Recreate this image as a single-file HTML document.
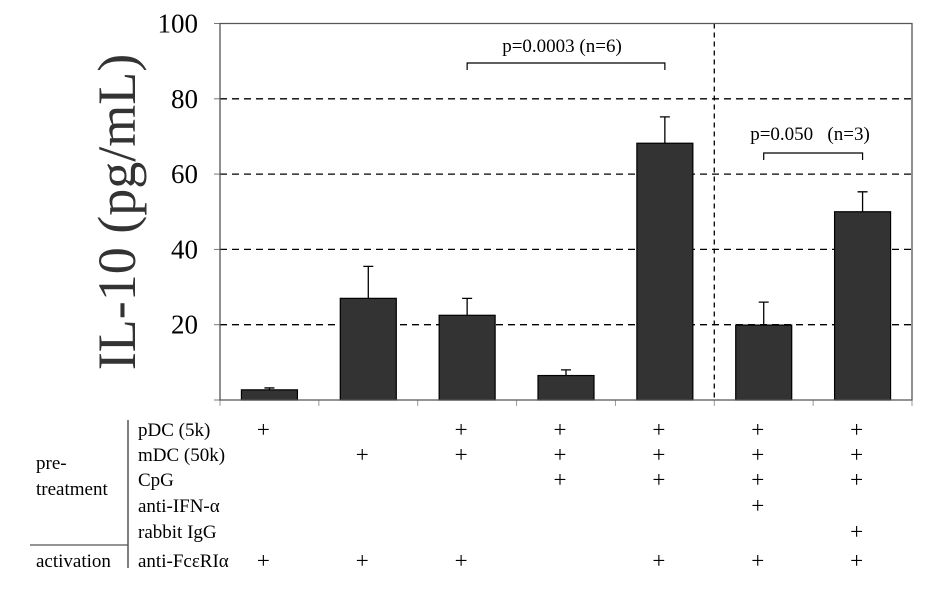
<!DOCTYPE html>
<html><head><meta charset="utf-8"><style>
body{margin:0;background:#fff;}
svg{display:block;font-family:"Liberation Serif",serif;}
text{white-space:pre;}
</style></head><body>
<svg id="chart" width="926" height="600">
<g id="grid"></g><g id="bars"></g><g id="axes"></g><g id="table"></g>
</svg>
<script>
const categories=["pDC","mDC","pDC+mDC","pDC+mDC+CpG","pDC+mDC+CpG+act","anti-IFN","rabbit IgG"];
const values=[2.7,27,22.5,6.5,68.2,19.9,50];
const errors=[0.5,8.5,4.5,1.5,7,6.1,5.3];
const yTicks=[0,20,40,60,80,100];
const rowLabels=["pDC (5k)","mDC (50k)","CpG","anti-IFN-\u03b1","rabbit IgG","anti-Fc\u03b5RI\u03b1"];
const plusRows=[[1,0,1,1,1,1,1],[0,1,1,1,1,1,1],[0,0,0,1,1,1,1],[0,0,0,0,0,1,0],[0,0,0,0,0,0,1],[1,1,1,0,1,1,1]];
const NS="http://www.w3.org/2000/svg";
const X0=220,X1=912,Y0=400,Y1=23.5;
const gw=(X1-X0)/categories.length;
const xc=i=>X0+(i+0.5)*gw;
const y=v=>Y0-(v/100)*(Y0-Y1);
function mk(p,t,a,txt){const e=document.createElementNS(NS,t);for(const k in a)e.setAttribute(k,a[k]);if(txt!==undefined)e.textContent=txt;document.getElementById(p).appendChild(e);return e;}
yTicks.forEach(t=>{
 if(t>0&&t<100){const g=mk('grid','line',{x1:X0,x2:X1,y1:y(t),y2:y(t),stroke:'#000','stroke-width':1.3,'stroke-dasharray':'7,5'});
 
 }
 if(t>0){const tl=mk('axes','text',{x:198,y:y(t)+9,'font-size':27,'text-anchor':'end'},String(t));
 
 }
 mk('axes','line',{x1:X0-6,x2:X0,y1:y(t),y2:y(t),stroke:'#777','stroke-width':1});
});
const dv=mk('grid','line',{x1:X0+5*gw,x2:X0+5*gw,y1:Y1,y2:Y0,stroke:'#000','stroke-width':1.3,'stroke-dasharray':'5,4'});


values.forEach((v,i)=>{
 const bw=56,cx=xc(i);
 const eb=mk('bars','path',{d:`M${cx},${y(v)}V${y(v+errors[i])}M${cx-5},${y(v+errors[i])}H${cx+5}`,stroke:'#000','stroke-width':1.3,fill:'none'});
 
 
 const r=mk('bars','rect',{x:cx-bw/2,y:y(v),width:bw,height:Y0-y(v),fill:'#333',stroke:'#000','stroke-width':1.2});
 
 
 mk('axes','line',{x1:X0+i*gw,x2:X0+i*gw,y1:Y0,y2:Y0+6,stroke:'#999','stroke-width':1});
});
mk('axes','line',{x1:X1,x2:X1,y1:Y0,y2:Y0+6,stroke:'#999','stroke-width':1});
const fr=mk('axes','path',{d:`M${X0},${Y1}H${X1}V${Y0}H${X0}Z`,fill:'none',stroke:'#555','stroke-width':1.3});


const yt=mk('axes','text',{x:0,y:0,'font-size':54,'text-anchor':'middle',fill:'#333',transform:'translate(135,212) rotate(-90)'},'IL-10 (pg/mL)');


function bracket(a,b,by,label,lx,ly,name){
 const p=mk('axes','path',{d:`M${xc(a)},${by+7}V${by}H${xc(b)}V${by+7}`,fill:'none',stroke:'#000','stroke-width':1.2});
 
 
 const t=mk('axes','text',{x:lx,y:ly,'font-size':19,'text-anchor':'middle'},label);
 
 
}
bracket(2,4,63,'p=0.0003 (n=6)',562,52,'significance-1');
bracket(5,6,153,'p=0.050   (n=3)',810,140,'significance-2');
const rowY=[436,461,486,512,538,567];
rowLabels.forEach((l,r)=>{
 const t=mk('table','text',{x:138,y:rowY[r],'font-size':19},l);
 
 
 plusRows[r].forEach((p,i)=>{ if(p){
  const s=mk('table','text',{x:xc(i)-6,y:rowY[r]+1,'font-size':23,'text-anchor':'middle'},'+');
  
  }});
});
mk('table','line',{x1:128,x2:128,y1:420,y2:568,stroke:'#555','stroke-width':1.5});
mk('table','line',{x1:30,x2:128,y1:545,y2:545,stroke:'#555','stroke-width':1.2});
[['pre-',36,469],['treatment',36,495],['activation',36,567]].forEach(a=>{
 const t=mk('table','text',{x:a[1],y:a[2],'font-size':19},a[0]);
 
 
});
</script>
</body></html>
